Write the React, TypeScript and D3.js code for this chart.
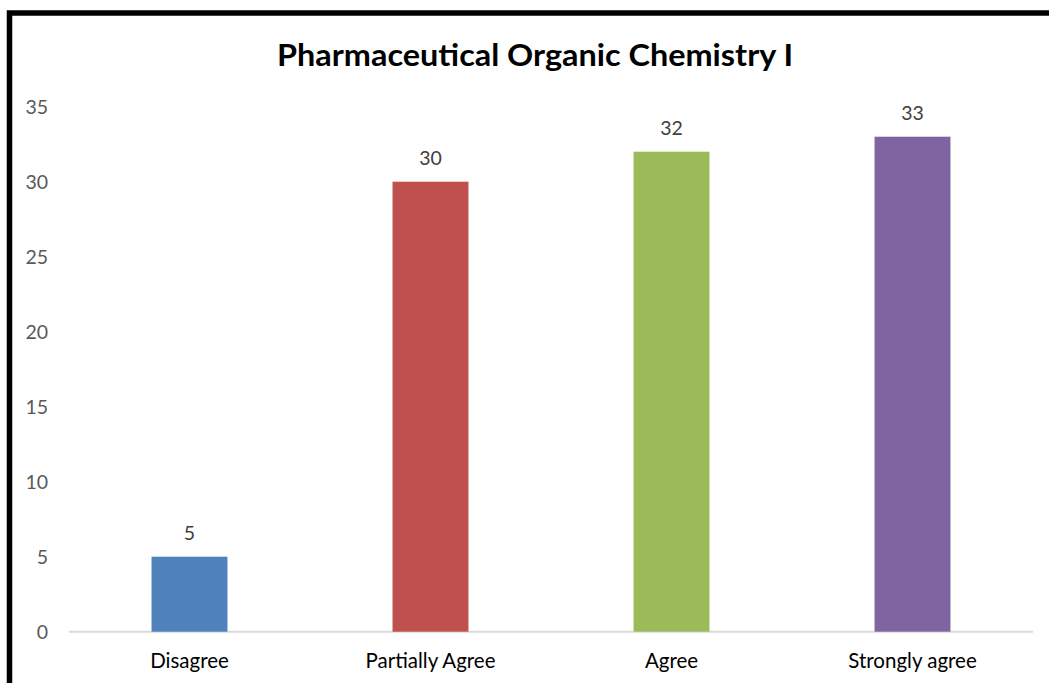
import React from "react";
import * as d3 from "d3";

const categories = ["Disagree", "Partially Agree", "Agree", "Strongly agree"];
const values = [5, 30, 32, 33];
const colors = ["#4F81BD", "#C0504D", "#9BBB59", "#8064A2"];
const yTicks = [0, 5, 10, 15, 20, 25, 30, 35];
const title = "Pharmaceutical Organic Chemistry I";

const W = 1049;
const H = 683;
const FONT = "Lato, 'Open Sans', sans-serif";

export default function App() {
  const x = d3.scaleBand<string>().domain(categories).range([69, 1033]).paddingInner(0.685).paddingOuter(0.3425);
  const y = d3.scaleLinear().domain([0, 35]).range([631.7, 106.7]);
  return (
    <svg width={W} height={H} style={{ position: "absolute", left: 0, top: 0, background: "#fff" }}>
      <rect x={0} y={0} width={W} height={H} fill="#fff" />
      <rect x={9.5} y={13} width={1200} height={800} fill="none" stroke="#000" strokeWidth={5.5} />
      <text x={535} y={66} textAnchor="middle" fontFamily={FONT} fontWeight="bold" fontSize={30} fill="#000"
        textLength={516} lengthAdjust="spacingAndGlyphs">
        {title}
      </text>
      {yTicks.map((t) => (
        <text key={t} x={48} y={y(t) + 7} textAnchor="end" fontFamily={FONT} fontSize={19.5} fill="#595959">
          {t}
        </text>
      ))}
      <line x1={69} x2={1033} y1={y(0)} y2={y(0)} stroke="#D9D9D9" strokeWidth={2} />
      {categories.map((c, i) => (
        <g key={c}>
          <rect x={x(c)} y={y(values[i])} width={x.bandwidth()} height={y(0) - y(values[i])} fill={colors[i]} />
          <text x={(x(c) as number) + x.bandwidth() / 2} y={y(values[i]) - 17} textAnchor="middle" fontFamily={FONT} fontSize={19.5} fill="#404040">
            {values[i]}
          </text>
          <text x={(x(c) as number) + x.bandwidth() / 2} y={668} textAnchor="middle" fontFamily={FONT} fontSize={20.5} fill="#000">
            {c}
          </text>
        </g>
      ))}
    </svg>
  );
}
